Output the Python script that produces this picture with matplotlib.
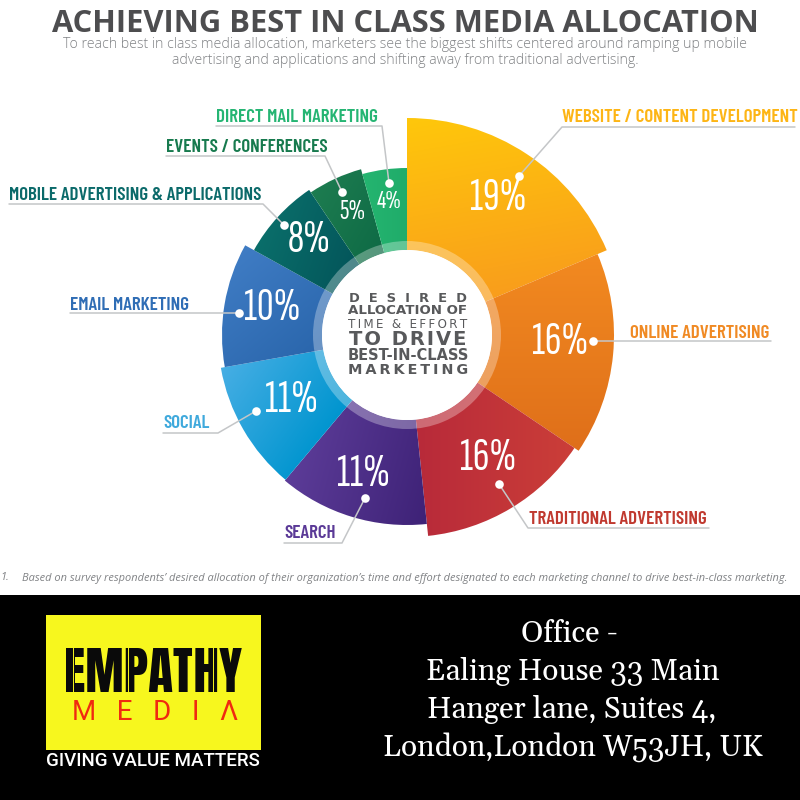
"""Media allocation donut, rebuilt on a pixel-sized canvas."""
import numpy as np
import matplotlib
matplotlib.use("Agg")
import matplotlib.pyplot as plt
import matplotlib.font_manager as fm
from matplotlib.patches import Wedge, Circle, Rectangle
from matplotlib.colors import to_rgb

# ── Data ──────────────────────────────────────────────────────────
channels = ["WEBSITE / CONTENT DEVELOPMENT", "ONLINE ADVERTISING", "TRADITIONAL ADVERTISING",
            "SEARCH", "SOCIAL", "EMAIL MARKETING", "MOBILE ADVERTISING & APPLICATIONS",
            "EVENTS / CONFERENCES", "DIRECT MAIL MARKETING"]
shares = [19, 16, 16, 11, 11, 10, 8, 5, 4]
# the drawn slices are not proportional to the shares, so read them off too
sweep_deg = [67, 57, 50, 46, 40, 39, 27, 18.5, 15.5]
outer_radius = [217, 207, 202, 190, 189, 185, 175, 172, 167]

colors_a = ["#FFC70B", "#F28A20", "#B82A3A", "#5C3C98", "#46AEE4", "#3F7CC4", "#0A6E6A", "#1D7C50", "#24B570"]
colors_b = ["#F99D1C", "#DF6F1A", "#CB3E38", "#3E2277", "#0095CF", "#2A66AC", "#03555A", "#0E6A45", "#20AC6A"]
grad_dir = [-80, -90, 0, -15, -35, -50, -20, -30, 0]
label_colors = ["#FDB515", "#F08A24", "#C0392F", "#5B3A97", "#3FA9DC", "#2F6DB5", "#0B6A6A", "#177A4E", "#25B573"]

# pixel positions, y measured from the top of the image
CX, CY = 407, 335
pct_xy = [(498, 198), (560, 343), (488, 459), (363, 474), (291, 401), (272, 309), (309, 241), (352, 212), (389, 202)]
pct_px = [46, 46, 46, 46, 46, 46, 46, 29, 27]
label_xy = [(562, 118), (630, 333), (529, 519), (284, 534), (163, 424), (70, 305), (9, 195), (166, 147), (216, 118)]
leaders = [
    [(519, 176), (562, 127), (795, 127)],
    [(593, 341), (771, 341)],
    [(499, 484), (528, 528), (709, 528)],
    [(365, 498), (342, 543), (284, 543)],
    [(256, 411), (218, 433), (163, 433)],
    [(239, 313), (70, 313)],
    [(284, 225), (263, 204), (9, 204)],
    [(342, 192), (325, 156), (166, 156)],
    [(389, 183), (382, 126), (216, 126)],
]

GREY = "#58595B"
installed = {f.name for f in fm.fontManager.ttflist}


def pick(*names):
    for n in names:
        if n in installed:
            return n
    return "DejaVu Sans"


COND = pick("Barlow Condensed", "Sofia Sans Condensed", "Saira Condensed")
XCOND = pick("Sofia Sans Extra Condensed", "Saira ExtraCondensed", "Barlow Condensed")
HEAVY = pick("Anton", "Special Gothic Condensed One", "Barlow Condensed")
SERIF = pick("Gelasio", "Georgia", "Liberation Serif")


def Y(py):
    return 800 - py


def thin(s, gap="\u2009"):
    return gap.join(s)


# ── Canvas ────────────────────────────────────────────────────────
fig = plt.figure(figsize=(8, 8), dpi=100, facecolor="white")
ax = fig.add_axes([0, 0, 1, 1])
ax.axis("off")

# ── Donut ─────────────────────────────────────────────────────────
yy, xx = np.mgrid[225:-225:300j, -225:225:300j]
radius = np.hypot(xx, yy)
clock = np.degrees(np.arctan2(xx, yy)) % 360
start = 0.0
for i in range(len(shares)):
    end = start + sweep_deg[i]
    r = outer_radius[i]
    w = Wedge((CX, Y(CY)), r, 90 - end, 90 - start, width=r - 85, facecolor="none", edgecolor="none")
    ax.add_patch(w)
    # gradient spans just this slice
    a = np.radians(grad_dir[i])
    proj = xx * np.cos(a) + yy * np.sin(a)
    inside = (radius <= r) & (radius >= 85) & (clock >= start) & (clock <= end)
    t = np.clip((proj - proj[inside].min()) / np.ptp(proj[inside]), 0, 1)[..., None]
    rgb = np.array(to_rgb(colors_a[i])) * (1 - t) + np.array(to_rgb(colors_b[i])) * t
    im = ax.imshow(rgb, extent=(CX - 225, CX + 225, Y(CY) - 225, Y(CY) + 225),
                   aspect="auto", interpolation="bilinear", zorder=1)
    im.set_clip_path(w)
    start = end

# pale band round the hole
ax.add_patch(Wedge((CX, Y(CY)), 94, 0, 360, width=9, facecolor="white", alpha=0.3, edgecolor="none", zorder=2))
ax.add_patch(Circle((CX, Y(CY)), 85, facecolor="white", edgecolor="none", zorder=2))

# ── Leaders & labels ──────────────────────────────────────────────
for i in range(len(shares)):
    xs, ys = zip(*leaders[i])
    ax.plot(xs, [Y(v) for v in ys], color="#C4C6C8", lw=1.1, zorder=3, solid_capstyle="round")
    ax.plot(xs[0], Y(ys[0]), "o", ms=6.2, color="white", mec="none", zorder=4)
    ax.text(pct_xy[i][0], Y(pct_xy[i][1]), f"{shares[i]}%", color="white", fontsize=pct_px[i] * 0.72,
            family=XCOND, ha="center", va="center", zorder=5)
    ax.text(label_xy[i][0], Y(label_xy[i][1]), channels[i], color=label_colors[i], fontsize=13.7,
            family=COND, fontweight="semibold", ha="left", va="center", zorder=5)

# ── Centre text ───────────────────────────────────────────────────
centre = [("D  E  S  I  R  E  D", 301.5, 9.4, "bold"), ("ALLOCATION OF", 314, 9.6, "bold"),
          (thin("TIME & EFFORT"), 327.5, 8.6, "normal"), (thin("TO DRIVE", "\u200a"), 345, 14, "bold"),
          ("BEST-IN-CLASS", 360, 10.5, "bold"), (thin("MARKETING"), 374.5, 10.4, "bold")]
for txt, py, size, weight in centre:
    ax.text(408, Y(py), txt, color=GREY, fontsize=size, fontweight=weight, family="DejaVu Sans",
            ha="center", va="baseline", zorder=5)

# ── Heading ───────────────────────────────────────────────────────
ax.text(405, Y(24), "ACHIEVING BEST IN CLASS MEDIA ALLOCATION", color="#4D4D4F", fontsize=22.2,
        family="Open Sans", fontweight="bold", ha="center", va="center")
ax.text(405, Y(45), "To reach best in class media allocation, marketers see the biggest shifts centered around ramping up mobile",
        color="#808285", fontsize=10.2, family="Open Sans", fontweight="light", ha="center", va="center")
ax.text(405, Y(61), "advertising and applications and shifting away from traditional advertising.",
        color="#808285", fontsize=10.2, family="Open Sans", fontweight="light", ha="center", va="center")
ax.text(22, Y(578), "Based on survey respondents\u2019 desired allocation of their organization\u2019s time and effort designated to each marketing channel to drive best-in-class marketing.",
        color="#808285", fontsize=7.94, family="Open Sans", style="italic", ha="left", va="center")
ax.text(0, Y(578), "1.", color="#808285", fontsize=7.94, family="Open Sans", style="italic", ha="left", va="center")

# ── Footer ────────────────────────────────────────────────────────
ax.add_patch(Rectangle((0, 0), 800, 205, facecolor="black", edgecolor="none", zorder=6))
ax.add_patch(Rectangle((46, Y(750)), 215, 135, facecolor="#F7F71E", edgecolor="none", zorder=7))
ax.text(153, Y(692), "EMPATHY", color="#0A0A0A", fontsize=37, family=HEAVY,
        ha="center", va="baseline", zorder=8)
# stencil cuts through the wordmark
for sx in [73, 128, 192, 213]:
    ax.plot([sx, sx], [Y(647), Y(693)], color="#F7F71E", lw=0.7, zorder=9)
ax.text(155, Y(712), "M   E   D   I   \u039b", color="#F02A10", fontsize=20, family="Roboto",
        ha="center", va="center", zorder=8)
ax.text(153, Y(761), "GIVING VALUE MATTERS", color="white", fontsize=13.5, family="Roboto", fontweight="medium",
        ha="center", va="center", zorder=8)
address = ["Office -", "Ealing House 33 Main", "Hanger lane, Suites 4,", "London,London W53JH, UK"]
address_y = [633, 671, 709, 747]
address_x = [569, 573, 572, 573]
for txt, px, py in zip(address, address_x, address_y):
    ax.text(px, Y(py), txt, color="white", fontsize=21.5, family=SERIF,
            ha="center", va="center", zorder=8)

ax.set_xlim(0, 800)
ax.set_ylim(0, 800)
fig.savefig("out.png", dpi=100, facecolor="white")
plt.close(fig)
